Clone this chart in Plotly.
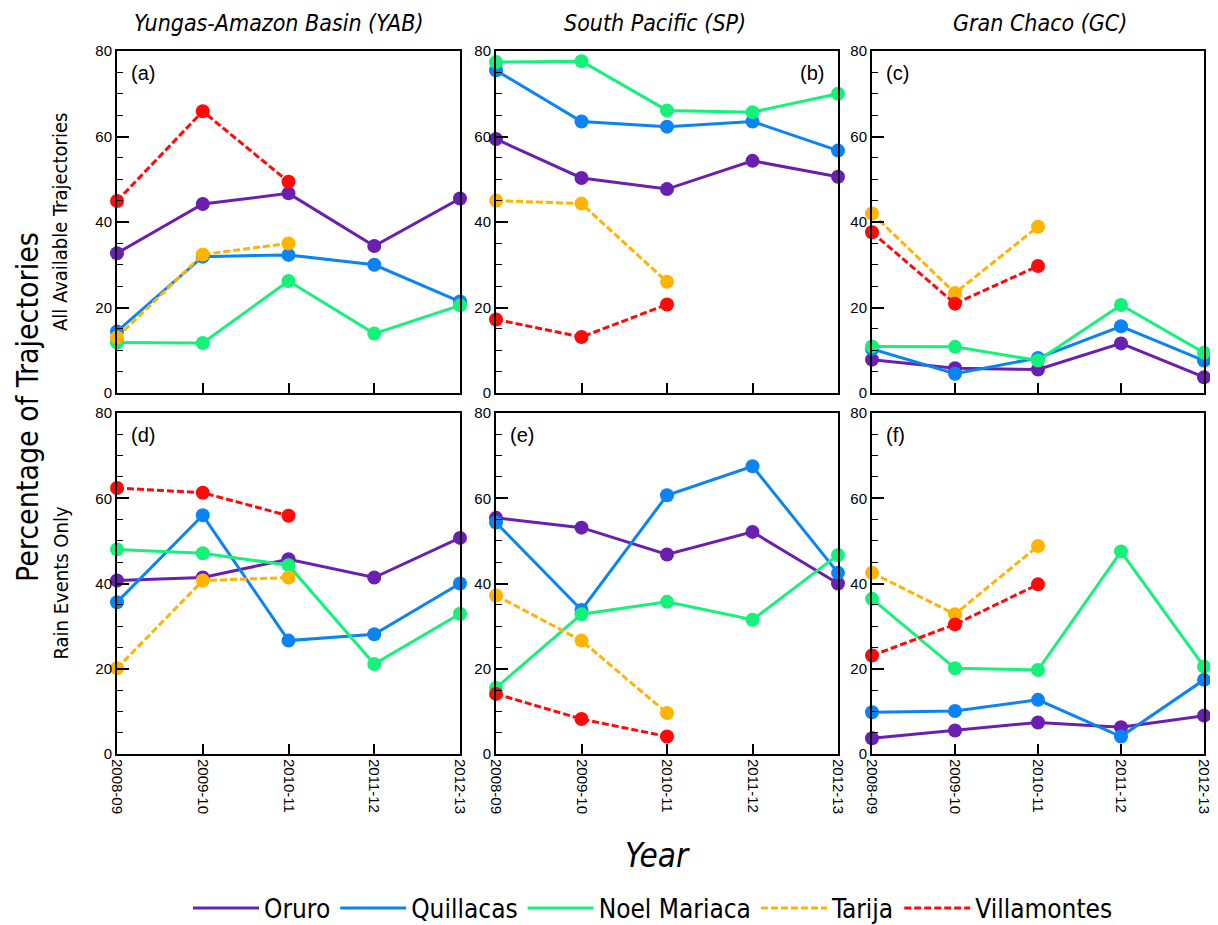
import plotly.graph_objects as go

years = ["2008-09", "2009-10", "2010-11", "2011-12", "2012-13"]
stations = ["Oruro", "Quillacas", "Noel Mariaca", "Tarija", "Villamontes"]

# Panel (a) YAB - all trajectories
a_oruro = [32.7, 44.2, 46.7, 34.4, 45.5]
a_quill = [14.4, 31.9, 32.3, 30.0, 21.4]
a_noel = [11.8, 11.7, 26.2, 13.9, 20.5]
a_tarija = [13.0, 32.4, 35.0, None, None]
a_villa = [44.9, 65.9, 49.4, None, None]
# Panel (b) SP - all trajectories
b_oruro = [59.4, 50.3, 47.7, 54.3, 50.6]
b_quill = [75.5, 63.5, 62.3, 63.5, 56.7]
b_noel = [77.4, 77.6, 66.1, 65.7, 70.0]
b_tarija = [45.0, 44.3, 26.0, None, None]
b_villa = [17.2, 13.1, 20.7, None, None]
# Panel (c) GC - all trajectories
c_oruro = [7.8, 5.8, 5.5, 11.6, 3.7]
c_quill = [10.3, 4.5, 8.2, 15.6, 7.6]
c_noel = [10.9, 10.8, 7.6, 20.6, 9.4]
c_tarija = [42.0, 23.4, 38.9, None, None]
c_villa = [37.6, 20.9, 29.7, None, None]
# Panel (d) YAB - rain events
d_oruro = [40.7, 41.4, 45.7, 41.4, 50.7]
d_quill = [35.6, 56.0, 26.6, 28.1, 40.0]
d_noel = [48.0, 47.1, 44.3, 21.1, 32.9]
d_tarija = [20.1, 40.7, 41.4, None, None]
d_villa = [62.4, 61.3, 55.9, None, None]
# Panel (e) SP - rain events
e_oruro = [55.4, 53.1, 46.8, 52.1, 40.0]
e_quill = [54.3, 33.8, 60.7, 67.5, 42.5]
e_noel = [15.5, 32.8, 35.7, 31.5, 46.7]
e_tarija = [37.2, 26.6, 9.6, None, None]
e_villa = [14.1, 8.2, 4.1, None, None]
# Panel (f) GC - rain events
f_oruro = [3.7, 5.5, 7.4, 6.3, 9.0]
f_quill = [9.8, 10.1, 12.7, 4.1, 17.4]
f_noel = [36.4, 20.1, 19.7, 47.5, 20.5]
f_tarija = [42.5, 32.8, 48.8, None, None]
f_villa = [23.1, 30.4, 39.8, None, None]

panels = [
    ("(a)", [a_oruro, a_quill, a_noel, a_tarija, a_villa]),
    ("(b)", [b_oruro, b_quill, b_noel, b_tarija, b_villa]),
    ("(c)", [c_oruro, c_quill, c_noel, c_tarija, c_villa]),
    ("(d)", [d_oruro, d_quill, d_noel, d_tarija, d_villa]),
    ("(e)", [e_oruro, e_quill, e_noel, e_tarija, e_villa]),
    ("(f)", [f_oruro, f_quill, f_noel, f_tarija, f_villa]),
]
col_titles = ["Yungas-Amazon Basin (YAB)", "South Pacific (SP)", "Gran Chaco (GC)"]
row_titles = ["All Available Trajectories", "Rain Events Only"]
yticks = [0, 20, 40, 60, 80]

colors = ["#6B1FB1", "#0A84F5", "#14F27A", "#FFB400", "#FF0A0A"]
dashes = ["solid", "solid", "solid", "7px,3px", "7px,3px"]

W, H = 1218, 925
OFF = 8  # page body offset


def fx(px):
    return (px - OFF) / W


def fy(py):
    return 1 - (py - OFF) / H


col_px = [(117, 460), (496, 838), (872, 1204)]
row_px = [(51, 393), (413, 754)]
title_cx = [278, 655, 1040]

TICKFONT = dict(family="Liberation Sans, Arial, sans-serif", size=15, color="black")
COND = "Liberation Sans Narrow, DejaVu Sans Condensed, Open Sans, sans-serif"

fig = go.Figure()
layout = dict(width=W, height=H, margin=dict(l=0, r=0, t=0, b=0, autoexpand=False),
              paper_bgcolor="white", plot_bgcolor="white", showlegend=True)
annotations = []
xcat = list(range(len(years)))

for i, (label, series) in enumerate(panels):
    r, c = divmod(i, 3)
    idx = "" if i == 0 else str(i + 1)
    xa, ya = "xaxis" + idx, "yaxis" + idx
    x0, x1 = col_px[c]
    y0, y1 = row_px[r]
    layout[xa] = dict(domain=[fx(x0), min(fx(x1), 1.0)], range=[0, 4], anchor="y" + idx,
                      tickvals=xcat, ticktext=years, tickangle=90,
                      showticklabels=(r == 1), tickfont=TICKFONT,
                      ticks="inside", ticklen=10, tickwidth=2, tickcolor="black",
                      showline=True, linewidth=2, linecolor="black", mirror=True,
                      showgrid=False, zeroline=False)
    layout[ya] = dict(domain=[fy(y1), fy(y0)], range=[0, 80], anchor="x" + idx,
                      tickvals=yticks, tickfont=TICKFONT,
                      ticks="inside", ticklen=12, tickwidth=2, tickcolor="black",
                      minor=dict(dtick=5, tick0=0, ticks="inside", ticklen=6,
                                 tickwidth=1, tickcolor="black"),
                      showline=True, linewidth=2, linecolor="black", mirror=True,
                      showgrid=False, zeroline=False)
    for s, vals in enumerate(series):
        fig.add_trace(go.Scatter(
            x=xcat, y=vals, mode="lines+markers", name=stations[s],
            line=dict(color=colors[s], width=3, dash=dashes[s]),
            marker=dict(color=colors[s], size=14),
            cliponaxis=False, showlegend=False, connectgaps=False,
            xaxis="x" + idx, yaxis="y" + idx))
    right = (label == "(b)")
    annotations.append(dict(text=label, xref="x" + idx + " domain", yref="y" + idx + " domain",
                            x=0.965 if right else 0.035, y=0.975,
                            xanchor="right" if right else "left", yanchor="top",
                            showarrow=False,
                            font=dict(family="Liberation Sans, Arial, sans-serif", size=20, color="black")))

# legend entries (lines only)
for s in range(5):
    fig.add_trace(go.Scatter(x=[None], y=[None], mode="lines", name=stations[s],
                             line=dict(color=colors[s], width=3, dash=dashes[s]),
                             showlegend=True, xaxis="x", yaxis="y"))

for c, t in enumerate(col_titles):
    annotations.append(dict(text="<i>" + t + "</i>", xref="paper", yref="paper",
                            x=fx(title_cx[c]), y=fy(23), xanchor="center", yanchor="middle",
                            showarrow=False, font=dict(family=COND, size=23, color="black")))
for r, t in enumerate(row_titles):
    y0, y1 = row_px[r]
    annotations.append(dict(text=t, xref="paper", yref="paper", textangle=-90,
                            x=fx(60), y=fy((y0 + y1) / 2), xanchor="center", yanchor="middle",
                            showarrow=False, font=dict(family=COND, size=20, color="black")))
annotations.append(dict(text="Percentage of Trajectories", xref="paper", yref="paper", textangle=-90,
                        x=fx(27), y=fy(407), xanchor="center", yanchor="middle",
                        showarrow=False, font=dict(family=COND, size=30, color="black")))
annotations.append(dict(text="<i>Year</i>", xref="paper", yref="paper",
                        x=fx(657), y=fy(855), xanchor="center", yanchor="middle",
                        showarrow=False, font=dict(family=COND, size=33, color="black")))

layout["annotations"] = annotations
layout["legend"] = dict(orientation="h", x=fx(653), xanchor="center", y=fy(908), yanchor="middle",
                        font=dict(family=COND, size=26, color="black"), bgcolor="rgba(0,0,0,0)",
                        itemwidth=66, tracegroupgap=0)
fig.update_layout(**layout)
fig.write_html("out.html")
